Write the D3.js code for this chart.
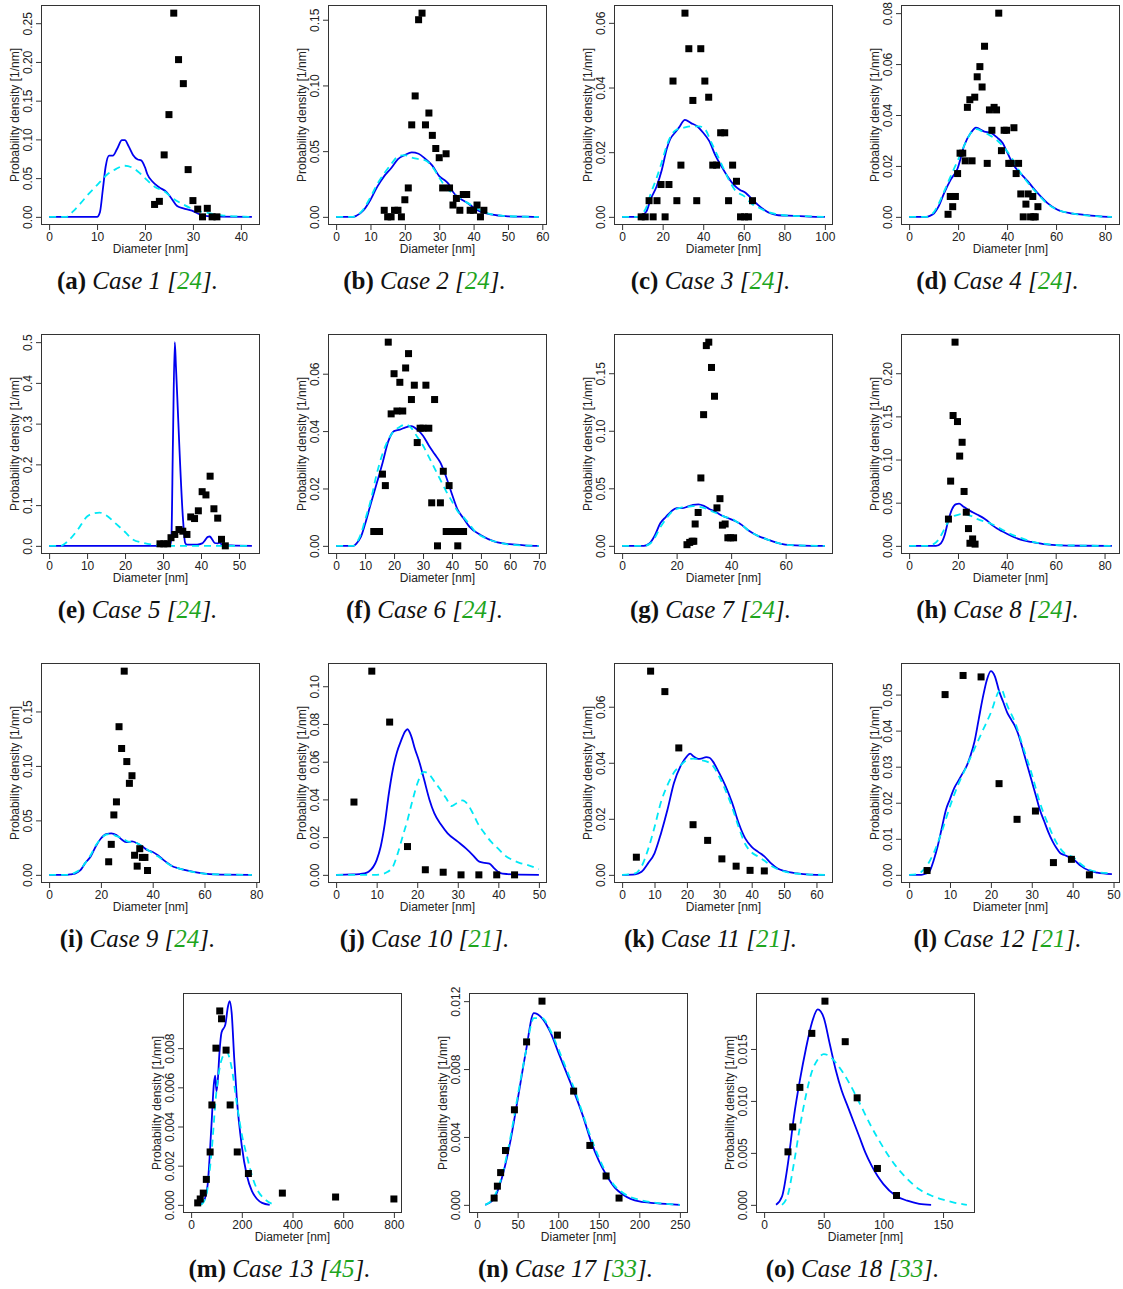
<!DOCTYPE html>
<html>
<head>
<meta charset="utf-8">
<script src="https://cdn.jsdelivr.net/npm/d3@7"></script>
<style>
  body { margin: 0; background: #fff; }
  svg { display: block; background: #fff; }
  .cap { font-family: "Liberation Serif", "Times New Roman", serif; font-size: 25px; fill: #111; }
</style>
</head>
<body>
<script>
// panel captions
const caseLetters = ['a', 'b', 'c', 'd', 'e', 'f', 'g', 'h', 'i', 'j', 'k', 'l', 'm', 'n', 'o'];
const caseNames = ['Case 1', 'Case 2', 'Case 3', 'Case 4', 'Case 5', 'Case 6', 'Case 7', 'Case 8',
  'Case 9', 'Case 10', 'Case 11', 'Case 12', 'Case 13', 'Case 17', 'Case 18'];
const caseRefs = ['24', '24', '24', '24', '24', '24', '24', '24', '24', '21', '21', '21', '45', '33', '33'];

// tick labels
const xTicks = [
  [0, 10, 20, 30, 40], [0, 10, 20, 30, 40, 50, 60], [0, 20, 40, 60, 80, 100], [0, 20, 40, 60, 80],
  [0, 10, 20, 30, 40, 50], [0, 10, 20, 30, 40, 50, 60, 70], [0, 20, 40, 60], [0, 20, 40, 60, 80],
  [0, 20, 40, 60, 80], [0, 10, 20, 30, 40, 50], [0, 10, 20, 30, 40, 50, 60], [0, 10, 20, 30, 40, 50],
  [0, 200, 400, 600, 800], [0, 50, 100, 150, 200, 250], [0, 50, 100, 150]
];
const yTicks = [
  [0, 0.05, 0.10, 0.15, 0.20, 0.25], [0, 0.05, 0.10, 0.15], [0, 0.02, 0.04, 0.06], [0, 0.02, 0.04, 0.06, 0.08],
  [0, 0.1, 0.2, 0.3, 0.4, 0.5], [0, 0.02, 0.04, 0.06], [0, 0.05, 0.10, 0.15], [0, 0.05, 0.10, 0.15, 0.20],
  [0, 0.05, 0.10, 0.15], [0, 0.02, 0.04, 0.06, 0.08, 0.10], [0, 0.02, 0.04, 0.06], [0, 0.01, 0.02, 0.03, 0.04, 0.05],
  [0, 0.002, 0.004, 0.006, 0.008], [0, 0.004, 0.008, 0.012], [0, 0.005, 0.010, 0.015]
];
const yDigits = [2, 2, 2, 2, 1, 2, 2, 2, 2, 2, 2, 2, 3, 3, 3];

// measured densities (squares), fitted density (solid), reference fit (dashed)
const ptsA = [[22,0.016],[23,0.020],[24,0.080],[25,0.132],[26,0.263],[27,0.203],[28,0.172],[29,0.061],[30,0.021],[31,0.010],[32,0],[33,0.011],[34,0],[35,0]];
const blueA = [[0,0],[10,0],[10.6,0.006],[11.2,0.035],[11.8,0.065],[12.5,0.079],[13.3,0.079],[14.2,0.088],[15.2,0.099],[15.8,0.099],[16.6,0.091],[17.5,0.080],[18.5,0.074],[19.2,0.073],[20,0.064],[20.5,0.055],[21.5,0.046],[23,0.038],[24.5,0.032],[25.5,0.024],[26.7,0.014],[28,0.011],[29.8,0.008],[31.5,0.003],[33,0.001],[35,0.0003],[42.3,0]];
const cyanA = [[0,0],[3.5,0],[5,0.007],[6.5,0.017],[8,0.028],[10,0.041],[12,0.054],[14,0.062],[15.8,0.066],[17.5,0.063],[19,0.056],[20.5,0.047],[22,0.039],[24,0.033],[26,0.023],[28,0.016],[30,0.010],[33,0.005],[36,0.002],[39,0.0005],[42.3,0]];

const ptsB = [[14,0.005],[15,0],[16,0],[17,0.005],[18,0.005],[19,0],[20,0.013],[21,0.022],[22,0.070],[23,0.092],[24,0.150],[25,0.155],[26,0.070],[27,0.079],[28,0.062],[29,0.052],[30,0.045],[31,0.022],[32,0.048],[33,0.022],[34,0.009],[35,0.014],[36,0.005],[37,0.017],[38,0.017],[39,0.005],[40,0.005],[41,0.009],[42,0],[43,0.005]];
const blueB = [[0,0],[5,0],[6,0.001],[8,0.005],[10,0.013],[12,0.023],[14,0.031],[16,0.037],[18,0.044],[20,0.047],[22,0.049],[24,0.048],[26,0.044],[28,0.039],[30,0.031],[32,0.027],[33,0.024],[34,0.019],[36,0.014],[38,0.011],[40,0.007],[42,0.004],[45,0.0018],[50,0.0004],[55,0.0001],[59,0]];
const cyanB = [[0,0],[5,0],[6,0.001],[8,0.006],[10,0.015],[12,0.025],[14,0.033],[16,0.040],[18,0.046],[20,0.047],[22,0.045],[24,0.044],[26,0.043],[28,0.038],[30,0.030],[32,0.022],[34,0.018],[36,0.014],[38,0.011],[40,0.008],[42,0.005],[45,0.002],[50,0.0005],[59,0]];

const ptsC = [[9.4,0],[11.4,0],[13.3,0.005],[15.3,0],[17.2,0.005],[19.2,0.010],[21.2,0],[23.1,0.010],[25.1,0.042],[27.0,0.005],[29.0,0.016],[31.0,0.063],[32.9,0.052],[34.9,0.036],[36.8,0.005],[38.8,0.052],[40.8,0.042],[42.7,0.037],[44.7,0.016],[46.6,0.016],[48.6,0.026],[50.6,0.026],[52.5,0.005],[54.5,0.016],[56.4,0.011],[58.4,0],[60.4,0],[62.3,0],[64.3,0.005]];
const blueC = [[0,0],[8,0],[10,0.0006],[12,0.0017],[14,0.0053],[17,0.0094],[19.6,0.0146],[22,0.021],[23.7,0.024],[26,0.026],[28,0.0276],[31,0.030],[34,0.029],[37,0.028],[40,0.026],[43,0.0234],[46,0.019],[49,0.0156],[52,0.0125],[55,0.010],[58,0.0084],[61,0.0074],[64,0.0055],[67,0.0037],[70,0.0022],[73,0.0011],[77,0.0005],[85,0.0003],[92,0.0001],[100,0]];
const cyanC = [[0,0],[8,0],[10,0.001],[12,0.003],[14,0.007],[17,0.012],[19.6,0.017],[22,0.022],[24,0.025],[27,0.027],[30,0.0275],[34,0.028],[38,0.028],[41,0.027],[44,0.023],[47,0.019],[50,0.015],[53,0.011],[56,0.008],[60,0.0065],[64,0.004],[67,0.003],[70,0.002],[75,0.001],[80,0.0005],[90,0.0002],[100,0]];

const ptsD = [[15.9,0.001],[16.8,0.008],[17.8,0.004],[18.9,0.008],[19.8,0.017],[20.8,0.025],[21.9,0.025],[22.9,0.022],[23.8,0.043],[24.8,0.046],[25.7,0.022],[26.8,0.047],[27.8,0.055],[28.9,0.059],[29.8,0.051],[30.8,0.067],[31.9,0.021],[32.8,0.042],[33.8,0.034],[34.7,0.043],[35.7,0.042],[36.6,0.080],[37.7,0.026],[38.8,0.034],[39.8,0.034],[40.7,0.021],[41.7,0.021],[42.8,0.035],[43.7,0.017],[44.7,0.021],[45.6,0.009],[46.6,0],[47.7,0.005],[48.6,0.009],[49.6,0],[50.5,0.008],[50.9,0],[51.5,0],[52.6,0.004]];
const blueD = [[0,0],[7,0],[8.5,0.0004],[10.2,0.0014],[12,0.004],[14.3,0.0093],[17,0.0146],[19.8,0.019],[22.5,0.028],[25.2,0.033],[27.3,0.035],[30.7,0.0335],[33.4,0.033],[36.1,0.031],[38.2,0.029],[40.2,0.025],[42.9,0.020],[45.6,0.017],[48.4,0.014],[52.5,0.0093],[56.5,0.0054],[60.6,0.0028],[66,0.0014],[71.5,0.0008],[78,0.0002],[82.8,0]];
const cyanD = [[0,0],[7,0],[8.5,0.0005],[10.2,0.002],[12,0.005],[14.3,0.010],[17,0.016],[19.8,0.022],[22.5,0.028],[25.2,0.033],[27.5,0.0345],[30,0.0335],[33,0.032],[36,0.030],[39,0.027],[42,0.023],[45,0.018],[48,0.014],[52,0.0095],[56,0.0055],[60,0.003],[66,0.0014],[72,0.0006],[82.8,0]];

const ptsE = [[29.2,0.005],[30.2,0.005],[31.2,0.005],[32.1,0.020],[33.1,0.028],[34.2,0.040],[35.2,0.036],[36.3,0.028],[37.3,0.071],[38.3,0.067],[39.3,0.086],[40.3,0.133],[41.3,0.125],[42.4,0.171],[43.4,0.091],[44.4,0.068],[45.4,0.016],[46.4,0]];
const blueE = [[0,0],[31.8,0],[32.2,0.02],[32.6,0.25],[33.1,0.50],[33.4,0.44],[35.3,0.06],[35.8,0.008],[36.3,0.003],[39,0.003],[40.3,0.006],[41,0.013],[41.8,0.022],[42.3,0.023],[43,0.015],[43.6,0.007],[44.3,0.006],[44.9,0.008],[45.4,0.004],[46.5,0.002],[48,0.001],[53.4,0]];
const cyanE = [[0,0],[3,0],[5,0.012],[7.5,0.039],[10,0.072],[12,0.080],[13.3,0.0815],[15,0.075],[17.5,0.055],[20,0.034],[22,0.016],[25,0.007],[28.2,0.002],[30,0.001],[32,0],[53.4,0]];

const ptsF = [[13,0.005],[14,0.005],[15,0.005],[16,0.025],[17,0.021],[18,0.071],[19,0.046],[20,0.060],[21,0.047],[22,0.057],[23,0.047],[24,0.062],[25,0.067],[26,0.051],[27,0.056],[28,0.036],[29,0.041],[30,0.041],[31,0.056],[32,0.041],[33,0.015],[34,0.051],[35,0],[36,0.015],[37,0.026],[38,0.005],[39,0.021],[40,0.005],[41,0.005],[42,0],[43,0.005],[44,0.005]];
const blueF = [[0,0],[6,0],[7,0.0008],[8.5,0.003],[10,0.0076],[12,0.0148],[14.2,0.0224],[16,0.0288],[18,0.0364],[20,0.040],[22,0.0405],[24,0.0413],[26,0.0417],[28,0.0405],[30,0.0384],[32,0.035],[34,0.032],[36,0.029],[38,0.024],[40,0.018],[42,0.0125],[44,0.0096],[46,0.0067],[50,0.0037],[55,0.0014],[60,0.0006],[65,0.0002],[70,0]];
const cyanF = [[0,0],[6,0],[7,0.001],[8.5,0.004],[10,0.009],[12,0.016],[14,0.025],[16,0.032],[18,0.037],[20,0.040],[22,0.0415],[24,0.0423],[26,0.041],[28,0.038],[30,0.035],[32,0.031],[34,0.027],[36,0.023],[38,0.019],[40,0.0155],[42,0.012],[44,0.010],[46,0.0075],[48,0.005],[52,0.0025],[56,0.0012],[60,0.0004],[70,0]];

const ptsG = [[23.8,0.001],[24.8,0.003],[25.7,0.004],[26.3,0.004],[26.8,0.019],[27.9,0.029],[28.9,0.059],[29.9,0.114],[30.9,0.174],[31.8,0.177],[32.8,0.155],[33.9,0.130],[34.8,0.033],[35.9,0.041],[36.8,0.018],[37.8,0.019],[38.8,0.007],[39.8,0.007],[40.9,0.007]];
const blueG = [[0,0],[8,0],[10,0.002],[12,0.009],[14,0.0196],[16,0.025],[18,0.030],[20,0.0327],[22,0.0327],[24,0.034],[26,0.0356],[28,0.036],[30,0.0347],[32,0.032],[34,0.030],[36,0.027],[38,0.025],[40,0.023],[42,0.021],[44,0.018],[46,0.014],[48,0.011],[50,0.0085],[54,0.005],[58,0.002],[62,0.0006],[66,0.0002],[74.4,0]];
const cyanG = [[0,0],[8,0],[10,0.0015],[12,0.007],[14,0.016],[16,0.023],[18,0.029],[20,0.032],[22,0.0335],[24,0.034],[26,0.0345],[28,0.034],[30,0.033],[32,0.031],[34,0.029],[36,0.027],[38,0.025],[40,0.024],[42,0.021],[44,0.018],[46,0.014],[48,0.011],[50,0.0085],[54,0.005],[58,0.002],[62,0.0006],[74.4,0]];

const ptsH = [[16.1,0.031],[17.0,0.075],[18.0,0.151],[18.8,0.236],[19.8,0.144],[20.7,0.104],[21.7,0.120],[22.5,0.063],[23.4,0.039],[24.3,0.020],[24.9,0.003],[26.0,0.008],[27.0,0.002]];
const blueH = [[0,0],[11,0],[13,0.003],[14.5,0.012],[16,0.029],[17.5,0.042],[19,0.048],[20.5,0.049],[22,0.046],[24,0.042],[26,0.039],[28,0.036],[30,0.033],[32,0.029],[34,0.024],[36,0.020],[38,0.017],[40,0.014],[43,0.010],[46,0.007],[50,0.0045],[55,0.002],[60,0.0008],[65,0.0003],[70,0.0001],[83,0]];
const cyanH = [[0,0],[8,0],[10,0.002],[12,0.007],[14,0.017],[16,0.028],[18,0.034],[20,0.036],[22,0.037],[24,0.036],[26,0.034],[28,0.031],[30,0.029],[34,0.025],[38,0.019],[42,0.013],[46,0.009],[50,0.005],[55,0.0025],[60,0.001],[70,0.0003],[83,0]];

const ptsI = [[23,0.012],[24,0.028],[25,0.055],[26,0.067],[27,0.136],[28,0.116],[29,0.187],[30,0.104],[31,0.084],[32,0.091],[33,0.018],[34,0.008],[35,0.024],[36,0.016],[37,0.016],[38,0.004]];
const blueI = [[0,0],[7,0],[8.5,0.0005],[10,0.0012],[12,0.004],[14,0.011],[16,0.0166],[18,0.026],[20,0.0334],[22,0.0374],[24,0.038],[26,0.0365],[28,0.0325],[30,0.030],[32,0.0307],[34,0.029],[36,0.026],[38,0.0227],[40,0.021],[42,0.018],[44,0.014],[46,0.0104],[48,0.0074],[50,0.006],[54,0.0037],[58,0.0018],[62,0.0006],[66,0.0002],[78.3,0]];
const cyanI = [[0,0],[7,0],[8.5,0.0007],[10,0.002],[12,0.005],[14,0.011],[16,0.018],[18,0.027],[20,0.033],[22,0.037],[24,0.0375],[26,0.0355],[28,0.034],[30,0.031],[32,0.030],[34,0.029],[36,0.026],[38,0.023],[40,0.020],[42,0.017],[44,0.0135],[46,0.010],[48,0.0075],[50,0.006],[54,0.0035],[58,0.0017],[62,0.0006],[78.3,0]];

const ptsJ = [[4.4,0.0386],[8.8,0.108],[13.2,0.081],[17.6,0.015],[22,0.0027],[26.4,0.0014],[30.8,0],[35.2,0],[39.6,0],[44,0]];
const blueJ = [[0,0],[4,0.0002],[7,0.0008],[8,0.0016],[10,0.0078],[11,0.015],[12,0.027],[13,0.043],[14,0.056],[15,0.065],[16,0.071],[17,0.076],[17.6,0.0772],[18.5,0.0737],[19.4,0.067],[20.5,0.060],[21.7,0.0505],[23,0.040],[24.2,0.0327],[25.9,0.0265],[27.5,0.022],[30,0.0176],[32,0.014],[33.7,0.0105],[35.3,0.007],[36.6,0.0064],[37.8,0.006],[39,0.0034],[40.3,0.0011],[42.3,0.0004],[45,0.0001],[50,0]];
const cyanJ = [[0,0],[10,0],[11,0.0002],[12.7,0.0016],[14,0.0043],[15.2,0.0114],[16.4,0.0203],[17.6,0.029],[18.9,0.040],[20.1,0.0488],[21.6,0.0546],[23,0.0532],[24.2,0.0496],[25.7,0.0452],[27.1,0.0407],[28.5,0.0365],[29.6,0.0378],[31.2,0.0395],[32.5,0.0372],[33.7,0.0327],[34.9,0.0274],[36.6,0.022],[38.2,0.0176],[39.9,0.014],[41.5,0.0105],[43.2,0.0082],[45.2,0.0064],[47.3,0.0052],[50,0.003]];

const ptsK = [[4.4,0.0063],[8.8,0.0727],[13.2,0.0654],[17.5,0.0453],[21.9,0.0179],[26.4,0.0123],[30.8,0.0057],[35.2,0.0031],[39.5,0.0016],[43.9,0.0014]];
const blueK = [[0,0],[4,0.0002],[6,0.0011],[8,0.0041],[10,0.0077],[12,0.0148],[14,0.0232],[16,0.0328],[18,0.0387],[20,0.0423],[21,0.0433],[22,0.0423],[23,0.0416],[24,0.0414],[26,0.042],[27,0.0418],[28,0.0405],[30,0.0363],[32,0.0315],[34,0.0256],[36,0.0184],[38,0.013],[40,0.010],[42,0.0082],[44,0.0065],[46,0.0041],[48,0.0023],[50,0.0014],[54,0.0005],[58,0.0001],[62.6,0]];
const cyanK = [[0,0],[4,0.0005],[6,0.003],[8,0.009],[10,0.017],[12,0.026],[14,0.032],[16,0.0365],[18,0.039],[20,0.041],[22,0.0415],[24,0.041],[26,0.0405],[28,0.039],[30,0.035],[32,0.030],[34,0.024],[36,0.017],[38,0.011],[40,0.008],[42,0.0065],[44,0.005],[46,0.0032],[48,0.002],[50,0.0012],[55,0.0003],[62.6,0]];

const ptsL = [[4.4,0.0012],[8.8,0.050],[13.2,0.0553],[17.6,0.0549],[22.0,0.0253],[26.4,0.0154],[30.9,0.0177],[35.3,0.0034],[39.7,0.0043],[44.1,0]];
const blueL = [[0,0],[3,0],[4,0.0003],[5,0.001],[6,0.004],[7,0.008],[8,0.013],[9,0.018],[10,0.021],[11,0.024],[12,0.026],[13,0.028],[14,0.030],[15,0.033],[16,0.037],[17,0.043],[18,0.049],[19,0.054],[20,0.0565],[21,0.055],[22,0.051],[23,0.048],[24,0.045],[25,0.043],[26,0.041],[27,0.038],[28,0.034],[29,0.030],[30,0.026],[31,0.022],[32,0.018],[33,0.015],[34,0.012],[35,0.0095],[36,0.0075],[37,0.006],[38,0.0055],[39,0.005],[40,0.0045],[41,0.0035],[42,0.0025],[44,0.0012],[46,0.0006],[49.6,0.0002]];
const cyanL = [[0,0],[2,0.0002],[4,0.002],[6,0.006],[8,0.012],[10,0.019],[12,0.025],[14,0.030],[16,0.035],[18,0.040],[20,0.045],[22,0.051],[22.5,0.0515],[24,0.047],[26,0.042],[28,0.035],[30,0.028],[32,0.020],[34,0.014],[36,0.009],[38,0.006],[40,0.005],[42,0.003],[44,0.0015],[46,0.0008],[49.6,0.0004]];

const ptsM = [[26,0.0001],[36,0.0003],[48,0.0006],[60,0.0013],[75,0.0027],[82,0.0051],[98,0.0080],[113,0.0099],[120,0.0095],[138,0.0079],[154,0.0051],[182,0.0027],[226,0.0016],[360,0.0006],[570,0.0004],[800,0.0003]];
const blueM = [[30,0],[50,0.0002],[65,0.001],[80,0.004],[90,0.0062],[95,0.0066],[100,0.0058],[105,0.0063],[112,0.0078],[120,0.0088],[135,0.0092],[145,0.0101],[152,0.0104],[160,0.0098],[170,0.0075],[180,0.0055],[200,0.003],[220,0.0015],[240,0.0007],[260,0.0003],[280,0.0001],[310,0]];
const cyanM = [[40,0],[60,0.0005],[80,0.0026],[100,0.0058],[120,0.0074],[140,0.0078],[160,0.0070],[180,0.0052],[200,0.0036],[220,0.0025],[240,0.0015],[260,0.0008],[290,0.0003],[330,0]];

const ptsN = [[21,0.0004],[25,0.0011],[29,0.0019],[35,0.0032],[46,0.0056],[61,0.0096],[80,0.0120],[99,0.0100],[119,0.0067],[139,0.0035],[159,0.0017],[175,0.0004]];
const blueN = [[10,0],[20,0.0003],[30,0.0015],[40,0.0035],[50,0.0062],[60,0.009],[70,0.0113],[80,0.011],[90,0.0102],[100,0.009],[110,0.0078],[120,0.0066],[130,0.0053],[140,0.0038],[150,0.0026],[160,0.0017],[170,0.001],[180,0.0006],[200,0.0002],[220,0.0001],[250,0]];
const cyanN = [[10,0],[20,0.0004],[30,0.0016],[40,0.0037],[50,0.0064],[60,0.009],[70,0.011],[80,0.011],[90,0.0103],[100,0.0092],[110,0.008],[120,0.0068],[130,0.0054],[140,0.004],[150,0.0028],[160,0.0018],[170,0.0011],[180,0.0007],[200,0.0003],[250,0]];

const ptsO = [[20,0.0051],[24,0.0075],[30,0.0113],[40,0.0165],[51,0.0196],[68,0.0157],[78,0.0103],[95,0.0035],[111,0.0009]];
const blueO = [[10,0],[15,0.0008],[20,0.004],[25,0.0085],[30,0.012],[35,0.015],[40,0.0175],[45,0.0188],[50,0.018],[55,0.0155],[60,0.013],[65,0.011],[70,0.0095],[75,0.008],[80,0.0065],[85,0.005],[90,0.0038],[95,0.0028],[100,0.002],[110,0.0009],[120,0.0004],[130,0.0001],[140,0]];
const cyanO = [[15,0],[20,0.001],[25,0.004],[30,0.0075],[35,0.0105],[40,0.0128],[45,0.014],[50,0.0145],[55,0.0143],[60,0.0137],[70,0.012],[80,0.0098],[90,0.0075],[100,0.0055],[110,0.0038],[120,0.0025],[130,0.0015],[140,0.0009],[150,0.0005],[160,0.0002],[170,0]];

const allPoints = [ptsA, ptsB, ptsC, ptsD, ptsE, ptsF, ptsG, ptsH, ptsI, ptsJ, ptsK, ptsL, ptsM, ptsN, ptsO];
const allBlue = [blueA, blueB, blueC, blueD, blueE, blueF, blueG, blueH, blueI, blueJ, blueK, blueL, blueM, blueN, blueO];
const allCyan = [cyanA, cyanB, cyanC, cyanD, cyanE, cyanF, cyanG, cyanH, cyanI, cyanJ, cyanK, cyanL, cyanM, cyanN, cyanO];

const width = 1123;
const height = 1289;
const boxW = 219;
const boxH = 220;
const colLeft = [41, 328, 614, 901];
const rowTop = [5, 334, 663];
const lastLeft = [183, 469, 756];
const lastTop = 993;
const axisFont = 'Liberation Sans, Arial, Helvetica, sans-serif';

const svg = d3.select('body').append('svg')
  .attr('width', width)
  .attr('height', height);

function drawPanel(i, left, top) {
  const pts = allPoints[i];
  const all = [[0, 0], ...pts, ...allBlue[i], ...allCyan[i]];
  const xExt = d3.extent(all, d => d[0]);
  const yExt = d3.extent(all, d => d[1]);
  const xPad = (xExt[1] - xExt[0]) * 0.04;
  const yPad = (yExt[1] - yExt[0]) * 0.04;

  const x = d3.scaleLinear().domain([xExt[0] - xPad, xExt[1] + xPad]).range([0, boxW]);
  const y = d3.scaleLinear().domain([yExt[0] - yPad, yExt[1] + yPad]).range([boxH, 0]);

  const g = svg.append('g').attr('transform', `translate(${left},${top})`);

  const gx = g.append('g')
    .attr('transform', `translate(0,${boxH})`)
    .call(d3.axisBottom(x).tickValues(xTicks[i]).tickSize(5).tickSizeOuter(0).tickPadding(2).tickFormat(d3.format('d')));
  gx.select('.domain').remove();
  gx.attr('font-size', 12).attr('font-family', axisFont);
  gx.selectAll('line').attr('stroke', '#333');
  gx.selectAll('text').attr('fill', '#222');

  const gy = g.append('g')
    .call(d3.axisLeft(y).tickValues(yTicks[i]).tickSize(5).tickSizeOuter(0).tickFormat(d3.format(`.${yDigits[i]}f`)));
  gy.select('.domain').remove();
  gy.attr('font-size', 12).attr('font-family', axisFont);
  gy.selectAll('line').attr('stroke', '#333');
  gy.selectAll('text')
    .attr('fill', '#222')
    .attr('x', 0)
    .attr('y', -13)
    .attr('dy', '0.35em')
    .attr('text-anchor', 'middle')
    .attr('transform', 'rotate(-90)');

  g.append('text')
    .attr('x', boxW / 2)
    .attr('y', boxH + 28)
    .attr('text-anchor', 'middle')
    .attr('font-family', axisFont)
    .attr('font-size', 12)
    .attr('fill', '#222')
    .text('Diameter [nm]');

  g.append('text')
    .attr('transform', `translate(-26,${boxH / 2}) rotate(-90)`)
    .attr('dy', '0.35em')
    .attr('text-anchor', 'middle')
    .attr('font-family', axisFont)
    .attr('font-size', 12)
    .attr('fill', '#222')
    .text('Probability density [1/nm]');

  const line = d3.line()
    .x(d => x(d[0]))
    .y(d => y(d[1]))
    .curve(d3.curveMonotoneX);

  g.append('path')
    .datum(allBlue[i])
    .attr('d', line)
    .attr('fill', 'none')
    .attr('stroke', '#0000f0')
    .attr('stroke-width', 1.8);

  g.append('path')
    .datum(allCyan[i])
    .attr('d', line)
    .attr('fill', 'none')
    .attr('stroke', '#00e8f5')
    .attr('stroke-width', 1.8)
    .attr('stroke-dasharray', '7,5');

  g.append('g')
    .selectAll('rect')
    .data(pts)
    .join('rect')
      .attr('x', d => x(d[0]) - 3.5)
      .attr('y', d => y(d[1]) - 3.5)
      .attr('width', 7)
      .attr('height', 7)
      .attr('fill', '#000');

  g.append('rect')
    .attr('x', 0.5)
    .attr('y', 0.5)
    .attr('width', boxW - 1)
    .attr('height', boxH - 1)
    .attr('fill', 'none')
    .attr('stroke', '#333')
    .attr('stroke-width', 1);

  const cap = g.append('text')
    .attr('class', 'cap')
    .attr('x', boxW / 2 - 13)
    .attr('y', boxH + 64)
    .attr('text-anchor', 'middle');
  cap.append('tspan').attr('font-weight', 'bold').text(`(${caseLetters[i]})`);
  cap.append('tspan').attr('font-style', 'italic').text(` ${caseNames[i]} [`);
  cap.append('tspan').attr('font-style', 'italic').attr('fill', '#1ea51e').text(caseRefs[i]);
  cap.append('tspan').attr('font-style', 'italic').text('].');
}

for (let i = 0; i < 12; i++) {
  drawPanel(i, colLeft[i % 4], rowTop[Math.floor(i / 4)]);
}
for (let i = 12; i < 15; i++) {
  drawPanel(i, lastLeft[i - 12], lastTop);
}
</script>
</body>
</html>
